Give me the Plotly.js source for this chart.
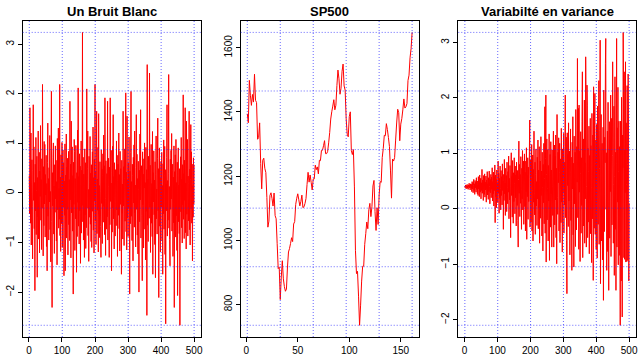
<!DOCTYPE html>
<html>
<head>
<meta charset="utf-8">
<script src="https://cdn.plot.ly/plotly-3.0.1.min.js"></script>
<style>html,body{margin:0;padding:0;background:#fff;}#chart{width:638px;height:356px;}</style>
</head>
<body>
<div id="chart"></div>
<script>
// ---------- DATA ----------
const titles = ["Un Bruit Blanc", "SP500", "Variabilté en variance"];

const bruitBlanc = [
0.35,-0.42,1.72,0.88,-0.61,1.21,-1.05,0.12,0.67,-0.28,-1.33,0.45,1.78,-0.15,0.93,-0.72,0.21,-1.97,0.58,-0.36,
1.12,-0.84,0.05,0.74,-1.70,0.31,-0.48,1.25,-0.93,0.16,0.82,-1.21,0.44,-0.07,1.36,-0.55,0.27,-1.14,0.69,-0.31,
2.19,0.08,-1.27,0.53,-0.66,1.04,-0.22,0.98,-0.89,0.37,-0.04,0.76,-1.08,0.19,-1.57,0.62,1.41,-0.47,0.29,-0.95,
0.51,-0.18,1.16,-0.74,0.03,-1.39,0.86,2.05,-0.58,-2.31,0.41,-0.26,0.72,1.01,-0.83,0.14,-1.22,0.57,-0.39,0.95,
-0.12,0.66,-0.97,0.23,-1.45,1.10,-0.34,0.48,1.31,-0.71,0.09,-0.53,2.19,-0.86,0.32,-1.18,0.77,0.15,-0.62,1.02,
-1.10,0.43,0.87,-0.29,0.61,-1.67,0.24,-0.45,0.99,-1.57,0.36,-0.08,1.19,-0.91,0.52,-0.33,0.70,-1.25,0.18,0.84,
-0.64,0.27,-0.96,1.85,-0.14,0.58,-1.31,1.45,-0.40,0.11,0.93,-0.77,0.35,-2.04,0.62,-0.23,1.08,0.84,-1.16,0.29,
-0.52,0.96,0.06,-1.60,0.41,-0.88,1.27,-0.19,2.12,-0.67,0.33,-1.03,0.79,-0.36,0.54,-1.42,0.17,1.05,-0.81,0.46,
-0.25,3.24,-0.58,0.72,-0.95,0.38,0.13,-1.30,0.89,-0.44,0.61,-1.12,0.26,-0.70,2.10,-0.31,0.49,1.25,-0.86,0.07,
-1.38,0.74,0.22,-0.49,1.14,-0.63,0.40,-0.98,0.57,-1.10,0.19,0.83,-0.37,1.33,-0.75,0.31,-1.21,0.68,-0.16,2.19,
-0.56,0.44,-1.04,0.71,1.65,-0.82,0.28,-0.35,0.92,-1.19,1.60,-0.43,0.15,-0.90,0.63,0.02,-0.68,-1.30,0.87,-0.21,
0.48,-1.02,0.36,0.79,-0.59,1.17,-0.27,0.55,-0.84,1.92,-0.11,-1.26,0.65,0.24,-0.73,0.39,-0.48,1.85,-0.95,0.13,
0.70,-0.38,-1.30,0.52,-0.64,1.92,-0.17,0.41,0.86,-1.57,0.20,-0.79,0.94,-0.30,1.58,-0.52,0.33,-1.13,0.61,-0.09,
-0.87,0.47,0.12,-0.66,1.05,-0.34,0.76,-1.28,0.25,0.58,-0.45,1.21,-0.72,0.37,-1.17,0.84,-0.23,0.49,0.04,-1.64,
0.66,-0.41,0.18,-0.93,1.65,-0.26,0.53,-1.06,0.30,0.89,-0.57,0.14,2.02,-0.78,0.42,-1.15,1.55,-0.50,0.27,-0.88,
0.60,-0.31,1.13,0.09,-2.04,0.44,-0.62,0.81,2.05,-0.47,0.23,-0.96,0.58,0.35,-1.37,0.72,-0.20,0.97,-0.69,1.25,
-0.40,0.16,-1.09,0.51,1.58,-0.33,0.78,-0.85,0.29,-1.23,0.64,0.07,-2.00,0.46,-0.58,1.19,-0.14,1.68,-0.91,0.32,
0.55,-0.46,-1.77,0.83,-0.24,0.38,-1.11,0.69,0.10,1.01,-0.73,0.21,-1.35,0.92,-0.37,0.47,-2.47,2.59,-0.65,0.28,
-0.98,0.74,0.13,-0.51,2.42,-0.29,0.56,-1.20,0.34,0.98,-0.61,0.19,-0.88,1.24,-1.64,0.41,-0.18,0.85,-0.44,0.26,
-1.04,0.63,-1.71,0.37,1.15,-0.52,0.08,-0.83,0.70,1.51,-0.36,0.49,-2.11,0.22,0.91,-0.67,0.31,-1.19,0.54,0.64,
-0.28,0.82,-0.97,0.15,-1.64,0.59,-0.42,1.07,-0.73,0.36,0.94,-1.24,0.47,-2.64,0.18,-0.36,0.72,1.78,-0.87,0.25,
-0.55,0.40,2.39,-0.71,0.13,-0.94,-1.47,0.68,-0.33,0.86,-0.12,1.20,-0.77,0.45,0.58,-1.28,0.32,-0.60,0.95,-2.31,
0.43,-0.19,0.77,-0.89,1.08,-0.46,0.21,-1.16,0.62,-2.07,0.35,0.91,-0.58,0.16,-0.82,0.49,-2.67,-0.16,0.73,-0.38,
1.12,-0.70,0.28,-1.01,0.57,-0.24,1.98,-0.53,0.39,-0.92,0.66,-0.15,1.72,-0.80,0.20,-1.13,1.45,-0.43,0.61,1.08,
-0.87,0.34,-0.56,0.19,1.65,-0.74,0.48,-1.05,0.27,1.38,-0.32,0.83,-0.61,0.15,-1.37,0.58,-0.49,0.71,-0.22,0.57
];

const sp500 = [
1394.46,1366.42,1498.58,1452.43,1420.60,1454.60,1430.83,1517.68,1436.51,1429.40,1314.95,1320.28,
1366.01,1239.94,1160.33,1249.46,1255.82,1224.42,1211.23,1133.58,1040.94,1059.78,1139.45,1148.08,
1130.20,1106.73,1147.39,1076.92,1067.14,989.82,911.62,916.07,815.28,885.76,936.31,879.82,
855.70,841.15,848.18,916.92,963.59,974.50,990.31,1008.01,995.97,1050.71,1058.20,1111.92,
1131.13,1144.94,1126.21,1107.30,1120.68,1140.84,1101.72,1104.24,1114.58,1130.20,1173.82,1211.92,
1181.27,1203.60,1180.59,1156.85,1191.50,1191.33,1234.18,1220.33,1228.81,1207.01,1249.48,1248.29,
1280.08,1280.66,1294.83,1310.61,1270.09,1270.20,1276.66,1303.82,1335.85,1377.94,1400.63,1418.30,
1438.24,1406.82,1420.86,1482.37,1530.62,1503.35,1455.27,1473.99,1526.75,1549.38,1481.14,1468.36,
1378.55,1330.63,1322.70,1385.59,1400.38,1280.00,1267.38,1282.83,1166.36,968.75,896.24,903.25,
825.88,735.09,797.87,872.81,919.14,919.32,987.48,1020.62,1057.08,1036.19,1095.63,1115.10,
1073.87,1104.49,1169.43,1186.69,1089.41,1030.71,1101.60,1049.33,1141.20,1183.26,1180.55,1257.64,
1286.12,1327.22,1325.83,1363.61,1345.20,1320.64,1292.28,1218.89,1131.42,1253.30,1246.96,1257.60,
1312.41,1365.68,1408.47,1397.91,1310.33,1362.16,1379.32,1406.58,1440.67,1412.16,1416.18,1426.19,
1498.11,1514.68,1569.19,1597.57,1648.00
];

const variance = [
0.41,0.38,0.43,0.40,0.36,0.42,0.39,0.44,0.37,0.41,0.35,0.43,0.40,0.46,0.38,0.42,0.34,0.45,0.40,0.37,
0.44,0.31,0.49,0.36,0.47,0.29,0.42,0.53,0.33,0.45,0.26,0.51,0.38,0.48,0.30,0.56,0.35,0.43,0.27,0.50,
0.24,0.58,0.36,0.49,0.22,0.61,0.41,0.30,0.55,0.18,0.47,0.33,0.71,0.28,0.52,0.39,0.15,0.60,0.44,0.26,
0.63,0.21,0.48,0.34,0.59,0.12,0.52,0.38,0.67,0.25,0.45,0.17,0.56,0.31,0.68,0.40,0.09,0.53,0.29,0.62,
0.20,0.57,0.35,0.74,0.14,0.49,0.27,0.66,0.05,0.58,0.33,0.79,-0.25,0.61,0.22,0.53,0.02,0.70,0.31,0.47,
0.11,0.86,0.28,0.64,-0.08,0.55,0.19,0.77,0.36,-0.02,0.69,0.24,0.58,0.07,0.81,0.33,0.50,-0.37,0.62,0.15,
0.89,0.27,0.46,-0.12,0.73,0.21,0.60,-0.05,0.84,0.38,0.09,0.67,0.30,0.95,-0.18,0.55,0.16,0.78,0.41,-0.52,
0.72,1.01,0.24,0.58,-0.15,0.87,0.34,-0.26,0.65,0.13,0.92,0.45,-0.09,0.77,0.20,0.61,-0.31,0.84,0.37,0.06,
0.69,-0.21,-0.69,0.53,1.22,0.28,0.80,-0.14,0.62,0.10,0.94,0.35,-0.37,0.73,0.18,1.05,-0.02,0.57,0.86,-0.28,
0.48,0.99,0.04,0.66,-0.40,0.86,0.31,1.10,-0.55,0.60,0.22,0.92,-0.19,0.75,0.13,0.54,1.03,1.60,-0.33,0.41,
0.88,-0.24,0.56,1.16,-0.40,0.33,0.97,-0.58,0.71,0.12,1.40,0.27,-0.11,0.84,-0.46,0.62,1.08,0.05,0.49,-0.30,
0.93,0.18,1.24,-0.36,0.70,0.02,1.12,-0.62,0.45,0.86,-0.17,1.30,0.24,0.68,-0.49,1.02,0.39,-0.76,0.80,0.11,
1.18,-0.27,0.55,1.84,-0.44,0.91,2.05,-0.96,0.62,1.26,-0.20,0.37,1.07,-0.58,0.78,0.14,1.35,-0.93,0.50,0.98,
-0.33,1.21,0.27,0.70,-0.69,1.06,0.41,-0.12,0.88,1.40,-0.69,0.58,1.15,-0.29,0.95,0.16,1.33,-0.52,0.73,-0.99,
1.70,0.20,-0.10,1.02,0.47,1.28,-0.40,0.66,1.18,-0.61,0.35,0.90,-0.25,1.45,0.12,0.79,-0.78,1.08,0.29,0.55,
1.36,-0.44,0.84,0.07,1.12,2.05,-0.16,0.61,1.29,-0.57,-1.53,1.37,0.42,0.98,-0.32,1.55,0.14,0.71,1.04,-0.83,
0.66,1.44,-0.21,0.93,0.14,-1.11,1.20,0.36,1.66,-0.47,0.82,-1.05,1.31,0.09,0.57,1.02,-0.68,1.79,0.25,-0.38,
1.12,0.48,2.71,-0.16,0.87,1.81,-0.73,1.87,0.30,1.04,-0.95,0.64,1.39,-0.44,0.92,0.06,1.58,2.47,-0.88,0.71,
1.26,-0.31,0.55,1.96,-0.62,0.83,0.18,2.74,1.96,-0.69,0.40,2.23,1.87,-0.52,1.09,-0.24,0.67,1.49,-0.81,0.96,
0.21,1.63,-0.45,1.14,0.38,-0.97,1.72,0.59,-0.18,1.33,-1.29,2.20,0.98,-0.35,1.75,2.08,-0.46,0.82,1.24,-0.73,
1.52,0.10,-0.89,1.85,0.47,-0.28,1.06,2.31,-0.64,0.73,1.41,3.04,-1.35,0.36,1.70,-0.58,0.95,1.18,-0.92,0.61,
1.47,-1.65,2.14,0.26,-0.41,1.29,0.83,2.62,3.07,-0.01,1.01,-1.11,0.50,1.40,-0.77,1.92,0.14,-1.47,0.88,1.57,
-0.53,1.24,0.31,2.05,-0.86,0.70,1.63,-0.29,0.96,2.65,1.28,-0.62,0.44,1.85,-1.20,0.58,2.38,-0.37,1.02,-1.47,
0.81,3.07,-0.69,1.46,0.12,2.19,-1.01,0.67,1.58,-0.84,1.12,0.38,-2.10,1.58,0.38,-1.30,2.01,0.52,-1.95,1.33,
0.74,3.18,2.23,-0.88,2.47,-0.91,1.06,0.29,2.65,-0.96,1.55,0.44,-0.95,2.22,0.80,-0.93,2.43,1.72,-1.30,0.10
];

const xTickStep = [100, 50, 100];
const yTickStep = [1, 200, 1];

// ---------- BUILD ----------
const series = [bruitBlanc, sp500, variance];
const xDomains = [[22.7/638, 200.7/638], [240.7/638, 418.7/638], [458.3/638, 635.7/638]];
const yDomain = [1 - 337/356, 1 - 20.7/356];
const FONT = "Liberation Sans, Arial, Helvetica, sans-serif";
const GRID = {color: "rgb(40,40,255)", width: 1, dash: "1px,2px"};

const traces = [];
const shapes = [];
const annotations = [];
const layout = {
  width: 638, height: 356,
  margin: {l: 0, r: 0, t: 0, b: 0},
  paper_bgcolor: "#fff", plot_bgcolor: "#fff",
  showlegend: false,
  font: {family: FONT, size: 10, color: "#000"}
};

series.forEach((ys, i) => {
  const n = ys.length;
  const xs = ys.map((_, k) => k + 1);
  const xa = i === 0 ? "x" : "x" + (i + 1);
  const ya = i === 0 ? "y" : "y" + (i + 1);
  const xKey = i === 0 ? "xaxis" : "xaxis" + (i + 1);
  const yKey = i === 0 ? "yaxis" : "yaxis" + (i + 1);
  traces.push({
    x: xs, y: ys, xaxis: xa, yaxis: ya, type: "scatter", mode: "lines",
    line: {color: "#ff0000", width: 1, simplify: false}, hoverinfo: "skip"
  });
  const ymin = Math.min(...ys), ymax = Math.max(...ys);
  const xmin = 1, xmax = n;
  const py = 0.04 * (ymax - ymin), px = 0.04 * (xmax - xmin);
  const axisCommon = {
    showgrid: false, zeroline: false, showline: true, mirror: true,
    linecolor: "#000", linewidth: 1, ticks: "outside", ticklen: 4,
    tickcolor: "#000", tickwidth: 1, tickfont: {family: FONT, size: 10, color: "#000"},
    ticklabeloverflow: "allow", fixedrange: true
  };
  layout[xKey] = Object.assign({}, axisCommon, {
    domain: xDomains[i], anchor: ya, range: [xmin - px, xmax + px],
    tick0: 0, dtick: xTickStep[i]
  });
  layout[yKey] = Object.assign({}, axisCommon, {
    domain: yDomain, anchor: xa, range: [ymin - py, ymax + py],
    tick0: 0, dtick: yTickStep[i], tickangle: -90
  });
  // dotted blue reference lines, 6 evenly spaced across the data range
  for (let k = 0; k <= 5; k++) {
    const gx = xmin + k * (xmax - xmin) / 5;
    const gy = ymin + k * (ymax - ymin) / 5;
    shapes.push({type: "line", xref: xa, yref: ya + " domain", x0: gx, x1: gx, y0: 0, y1: 1,
      line: GRID, opacity: 0.7, layer: "above"});
    shapes.push({type: "line", xref: xa + " domain", yref: ya, x0: 0, x1: 1, y0: gy, y1: gy,
      line: GRID, opacity: 0.7, layer: "above"});
  }
  annotations.push({
    text: "<b>" + titles[i] + "</b>", xref: "paper", yref: "paper",
    x: (xDomains[i][0] + xDomains[i][1]) / 2, y: 1 - 11/356,
    xanchor: "center", yanchor: "middle", showarrow: false,
    font: {family: FONT, size: 13, color: "#000"}
  });
});

layout.shapes = shapes;
layout.annotations = annotations;

Plotly.newPlot("chart", traces, layout, {displayModeBar: false, staticPlot: true});
</script>
</body>
</html>
